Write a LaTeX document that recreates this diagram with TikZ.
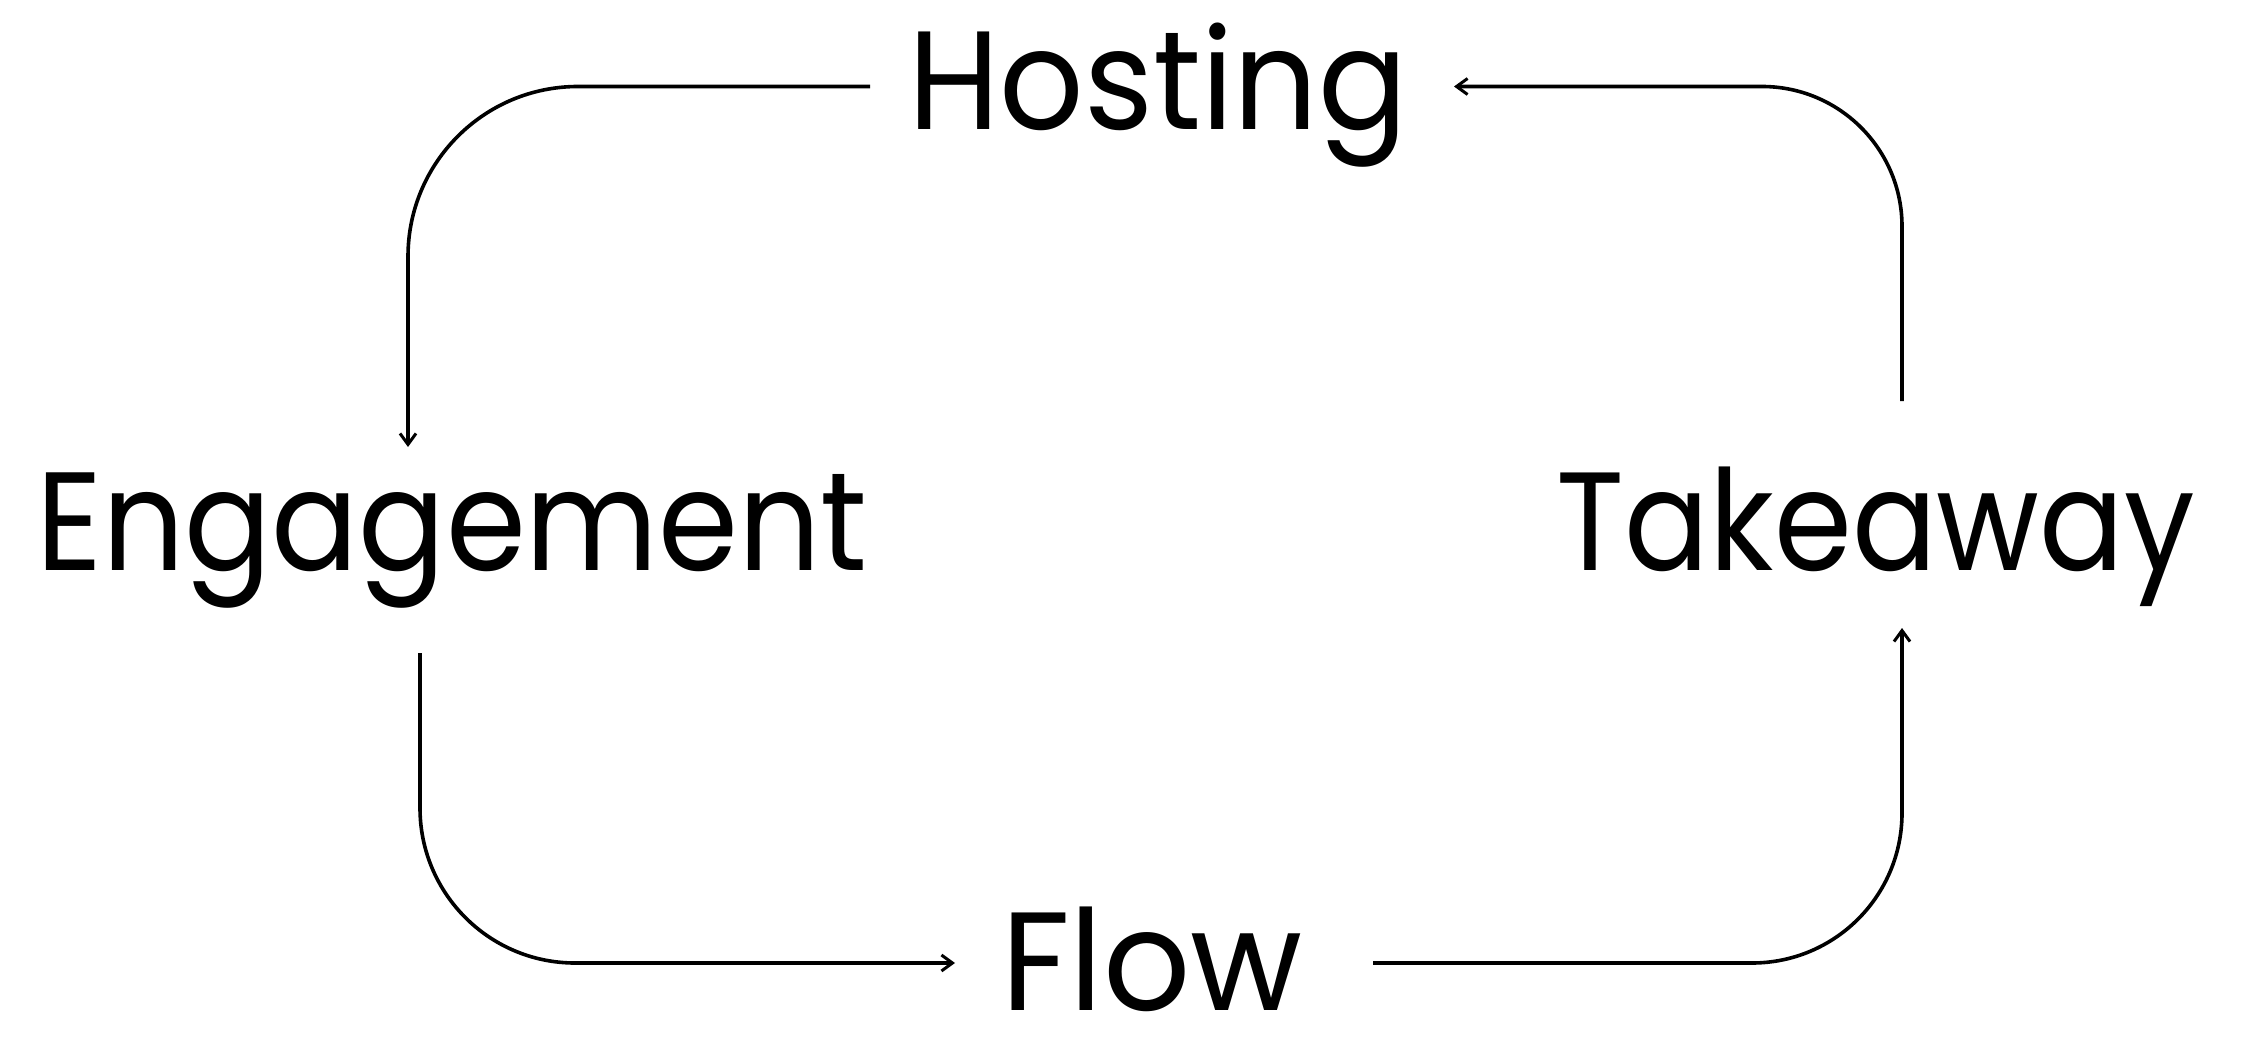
\documentclass[tikz,border=0pt]{standalone}
\usepackage{fontspec}
\usepackage{graphicx}
\setmainfont{Poppins}
\usetikzlibrary{arrows.meta}
\begin{document}
\begin{tikzpicture}[x=1pt,y=-1pt,
  lbl/.style={inner sep=0pt,anchor=base,font=\fontsize{140}{150}\selectfont},
  conn/.style={line width=3.6pt,rounded corners=160pt},
  tip/.style={-{Straight Barb[length=11pt,width=16pt,line width=3pt]}}]
\useasboundingbox (0,0) rectangle (2250,1056);
\node[lbl] (H) at (1158,130) {\scalebox{0.944}[1]{Hosting}};
\node[lbl] (E) at (452,570) {\scalebox{0.92}[1]{Engagement}};
\node[lbl] (T) at (1876,570) {\scalebox{0.896}[1]{Takeaway}};
\node[lbl] (F) at (1152,1010) {\scalebox{0.976}[1]{Flow}};
\coordinate (h1) at (870,86.5);
\coordinate (e1) at (408,447);
\coordinate (e2) at (420,653);
\coordinate (f1) at (955,963);
\coordinate (f2) at (1373,963);
\coordinate (t1) at (1902,628);
\coordinate (t2) at (1902,401);
\coordinate (h2) at (1454,86.5);
\draw[conn,tip,rounded corners=170pt] (h1) -| (e1);
\draw[conn,tip,rounded corners=155pt] (e2) |- (f1);
\draw[conn,tip,rounded corners=150pt] (f2) -| (t1);
\draw[conn,tip,rounded corners=140pt] (t2) |- (h2);
\end{tikzpicture}
\end{document}
